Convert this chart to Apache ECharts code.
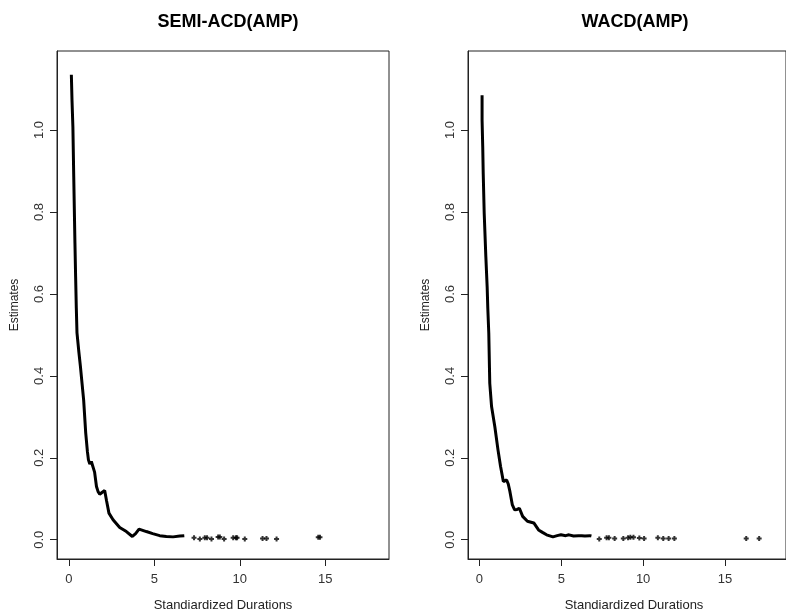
<!DOCTYPE html>
<html>
<head>
<meta charset="utf-8">
<script src="https://cdn.jsdelivr.net/npm/echarts@6/dist/echarts.min.js"></script>
<style>
  html, body { margin: 0; padding: 0; background: #fff; }
  #chart { width: 786px; height: 614px; }
</style>
</head>
<body>
<div id="chart"></div>
<script>
// Panel titles and axis captions
const panelTitles = ['SEMI-ACD(AMP)', 'WACD(AMP)'];
const xCaption = 'Standiardized Durations';
const yCaption = 'Estimates';
const xTicks = [0, 5, 10, 15];
const yTicks = [0, 0.2, 0.4, 0.6, 0.8, 1.0];

// SEMI-ACD(AMP): smooth part of the estimated curve
const semiX = [0.14, 0.18, 0.23, 0.28, 0.35, 0.39, 0.43, 0.47, 0.57, 0.67, 0.77, 0.86, 0.98, 1.08, 1.14, 1.22, 1.31, 1.41, 1.50, 1.61, 1.70, 1.80, 1.95, 2.09, 2.20, 2.34, 2.58, 2.97, 3.36, 3.71, 3.90, 4.10, 4.53, 4.90, 5.31, 5.70, 6.09, 6.49, 6.75];
const semiY = [1.135, 1.07, 1.008, 0.886, 0.724, 0.642, 0.566, 0.505, 0.462, 0.423, 0.380, 0.341, 0.261, 0.215, 0.195, 0.185, 0.191, 0.193, 0.165, 0.130, 0.118, 0.111, 0.116, 0.120, 0.095, 0.065, 0.049, 0.030, 0.020, 0.008, 0.015, 0.026, 0.020, 0.015, 0.010, 0.008, 0.007, 0.009, 0.010];
// SEMI-ACD(AMP): isolated estimates at long durations
const semiTailX = [7.32, 7.66, 7.95, 8.08, 8.34, 8.73, 8.83, 9.08, 9.61, 9.77, 9.84, 10.29, 11.33, 11.56, 12.15, 14.59, 14.69];
const semiTailY = [0.005, 0.002, 0.005, 0.005, 0.002, 0.007, 0.007, 0.002, 0.005, 0.005, 0.005, 0.002, 0.003, 0.003, 0.002, 0.006, 0.006];

// WACD(AMP): smooth part of the estimated curve
const wacdX = [0.16, 0.16, 0.20, 0.23, 0.29, 0.39, 0.47, 0.51, 0.57, 0.63, 0.74, 0.94, 1.13, 1.29, 1.46, 1.56, 1.66, 1.76, 1.86, 2.01, 2.15, 2.30, 2.44, 2.64, 2.93, 3.32, 3.61, 3.85, 4.10, 4.49, 4.75, 4.98, 5.27, 5.47, 5.75, 6.05, 6.25, 6.44, 6.74, 6.84];
const wacdY = [1.085, 1.024, 0.960, 0.894, 0.797, 0.691, 0.618, 0.565, 0.504, 0.382, 0.325, 0.276, 0.220, 0.179, 0.142, 0.140, 0.146, 0.136, 0.118, 0.085, 0.073, 0.074, 0.077, 0.057, 0.045, 0.041, 0.024, 0.018, 0.012, 0.007, 0.010, 0.012, 0.010, 0.012, 0.009, 0.010, 0.010, 0.009, 0.010, 0.009];
// WACD(AMP): isolated estimates at long durations
const wacdTailX = [7.32, 7.77, 7.91, 8.26, 8.79, 9.08, 9.22, 9.41, 9.77, 10.06, 10.90, 11.23, 11.56, 11.91, 16.30, 17.09];
const wacdTailY = [0.002, 0.005, 0.005, 0.003, 0.003, 0.005, 0.006, 0.006, 0.004, 0.003, 0.005, 0.003, 0.003, 0.003, 0.003, 0.003];

const ink = '#000';
const axisInk = '#333';
const font = 'Liberation Sans, Arial, sans-serif';
// small bold "+" marker
const plus = 'path://M3,0H7V3H10V7H7V10H3V7H0V3H3Z';

function pairs(xs, ys) { return xs.map((x, i) => [x, ys[i]]); }

const grids = [
  { left: 57, top: 51, width: 332, height: 508 },
  { left: 468, top: 51, width: 332, height: 508 }
];

// Each panel has a hidden 0..1 helper axis in both directions; the visible
// axes sit on the helper's zero, i.e. on the left and bottom edges of the box.
function xAxisFor(i) {
  return {
    type: 'value', gridIndex: i, min: -0.7, max: 18.73,
    splitLine: { show: false },
    axisLine: { show: true, onZero: true, onZeroAxisIndex: i + 2, lineStyle: { color: '#222', width: 1 } },
    axisTick: { show: true, length: 7, inside: false, customValues: xTicks, lineStyle: { color: '#222', width: 1 } },
    axisLabel: { customValues: xTicks, margin: 14, color: axisInk, fontSize: 13, fontFamily: font }
  };
}
function yAxisFor(i) {
  return {
    type: 'value', gridIndex: i, min: -0.047, max: 1.193,
    splitLine: { show: false },
    axisLine: { show: true, onZero: true, onZeroAxisIndex: i + 2, lineStyle: { color: '#222', width: 1 } },
    axisTick: { show: true, length: 7, inside: false, customValues: yTicks, lineStyle: { color: '#222', width: 1 } },
    axisLabel: { customValues: yTicks, rotate: 90, margin: 11, color: axisInk, fontSize: 13, fontFamily: font, formatter: v => v.toFixed(1) }
  };
}
function helperAxis(i) {
  return { type: 'value', gridIndex: i, min: 0, max: 1, show: false };
}

function curve(i, xs, ys) {
  return {
    type: 'line', xAxisIndex: i, yAxisIndex: i, data: pairs(xs, ys),
    showSymbol: false, smooth: false, animation: false,
    lineStyle: { color: ink, width: 3 }
  };
}
function tail(i, xs, ys) {
  return {
    type: 'scatter', xAxisIndex: i, yAxisIndex: i, data: pairs(xs, ys),
    symbol: plus, symbolSize: 5, animation: false,
    itemStyle: { color: ink }
  };
}

// axis captions placed beside each panel
function caption(text, x, y, rotated) {
  return {
    type: 'text', x, y, rotation: rotated ? Math.PI / 2 : 0,
    style: { text, fill: '#222', fontSize: rotated ? 12 : 13, fontFamily: font, textAlign: 'center', textVerticalAlign: 'middle' }
  };
}

const chart = echarts.init(document.getElementById('chart'), null, { renderer: 'canvas' });
chart.setOption({
  backgroundColor: '#fff',
  animation: false,
  title: [
    { text: panelTitles[0], left: 223, top: 8, textAlign: 'center', textStyle: { fontSize: 18, fontWeight: 'bold', color: '#000', fontFamily: font } },
    { text: panelTitles[1], left: 630, top: 8, textAlign: 'center', textStyle: { fontSize: 18, fontWeight: 'bold', color: '#000', fontFamily: font } }
  ],
  graphic: [
    caption(yCaption, 15, 305, true),
    caption(yCaption, 426, 305, true),
    caption(xCaption, 223, 605, false),
    caption(xCaption, 634, 605, false)
  ],
  grid: grids.map(g => Object.assign({ show: true, borderColor: '#222', borderWidth: 1 }, g)),
  xAxis: [xAxisFor(0), xAxisFor(1), helperAxis(0), helperAxis(1)],
  yAxis: [yAxisFor(0), yAxisFor(1), helperAxis(0), helperAxis(1)],
  series: [
    curve(0, semiX, semiY), tail(0, semiTailX, semiTailY),
    curve(1, wacdX, wacdY), tail(1, wacdTailX, wacdTailY)
  ]
});
</script>
</body>
</html>
